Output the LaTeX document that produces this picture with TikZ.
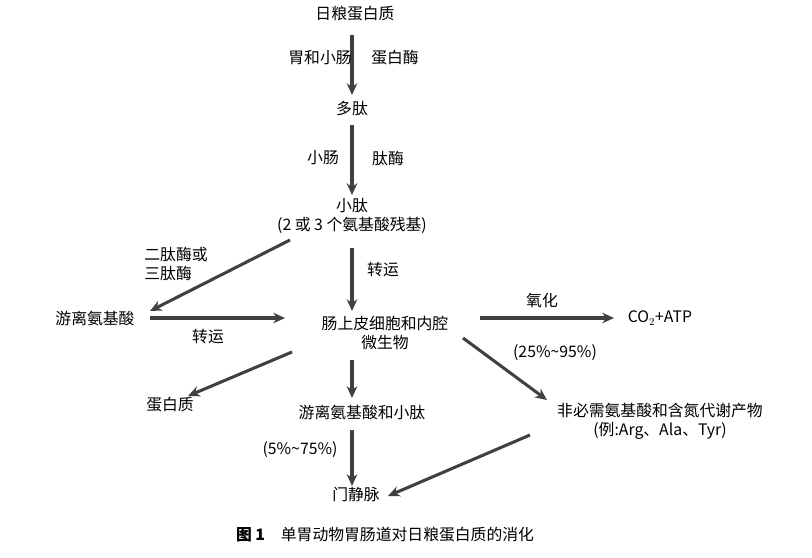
\documentclass[tikz,border=0pt]{standalone}
\usepackage{fontspec}
\setmainfont{Liberation Serif}
\newfontfamily\cjk{Noto Sans CJK SC}
\usetikzlibrary{arrows.meta}
\usetikzlibrary{positioning}

\begin{document}
\begin{tikzpicture}[x=0.03cm,y=-0.03cm,
	txt/.style={font=\cjk\fontsize{13.5}{16}\selectfont,inner sep=1pt},
	flow/.style={-{Stealth[length=10pt,width=9pt]},line width=2.6pt,black!75}]
	\useasboundingbox (0,0) rectangle (812,557);
	%main column
	\node[txt] (ration) at (355,14) {日粮蛋白质};
	\node[txt] (poly) at (352,108) {多肽};
	\node[txt,align=center] (small) at (352,216) {小肽\\(2 或 3 个氨基酸残基)};
	\node[txt,align=center] (cell) at (385,333) {肠上皮细胞和内腔\\微生物};
	\node[txt] (free) at (95,318) {游离氨基酸};
	\node[txt] (co2) at (660,318) {CO$_2$+ATP};
	\node[txt,align=center] (nonEss) at (660,421) {非必需氨基酸和含氮代谢产物\\(例:Arg、Ala、Tyr)};
	\node[txt] (prot) at (170,405) {蛋白质};
	\node[txt] (freeSmall) at (362,412) {游离氨基酸和小肽};
	\node[txt] (portal) at (356,494) {门静脉};
	%helper coordinates
	\coordinate (c1) at (352,35);  \coordinate (c2) at (352,95);
	\coordinate (c3) at (352,125); \coordinate (c4) at (352,195);
	\coordinate (c5) at (352,248); \coordinate (c6) at (352,311);
	\coordinate (c7) at (290,240); \coordinate (c8) at (150,311);
	\coordinate (c9) at (150,318); \coordinate (c10) at (285,318);
	\coordinate (c11) at (480,318); \coordinate (c12) at (614,318);
	\coordinate (c13) at (463,338); \coordinate (c14) at (547,400);
	\coordinate (c15) at (292,352); \coordinate (c16) at (188,396);
	\coordinate (c17) at (352,360); \coordinate (c18) at (352,398);
	\coordinate (c19) at (352,430); \coordinate (c20) at (352,486);
	\coordinate (c21) at (530,435); \coordinate (c22) at (388,496);
	%arrows
	\draw[flow] (c1)--(c2);
	\draw[flow] (c3)--(c4);
	\draw[flow] (c5)--(c6);
	\draw[flow] (c7)--(c8);
	\draw[flow] (c9)--(c10);
	\draw[flow] (c11)--(c12);
	\draw[flow] (c13)--(c14);
	\draw[flow] (c15)--(c16);
	\draw[flow] (c17)--(c18);
	\draw[flow] (c19)--(c20);
	\draw[flow] (c21)--(c22);
	%labels
	\node[txt] (l1) at (320,58) {胃和小肠};
	\node[txt] (l2) at (395,58) {蛋白酶};
	\node[txt] (l3) at (323,158) {小肠};
	\node[txt] (l4) at (388,158) {肽酶};
	\node[txt] (l5) at (383,270) {转运};
	\node[txt,align=left] (l6) at (176,264) {二肽酶或\\三肽酶};
	\node[txt] (l7) at (208,337) {转运};
	\node[txt] (l8) at (542,300) {氧化};
	\node[txt] (l9) at (555,353) {(25\%\textasciitilde95\%)};
	\node[txt] (l10) at (300,450) {(5\%\textasciitilde75\%)};
	\node[txt] (cap) at (385,535) {\textbf{图 1}\quad 单胃动物胃肠道对日粮蛋白质的消化};
\end{tikzpicture}
\end{document}
